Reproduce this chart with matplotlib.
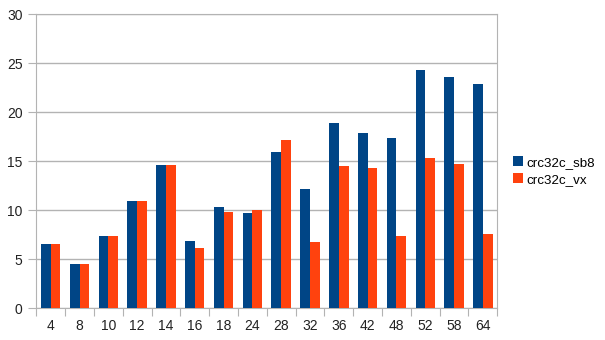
import numpy as np
import matplotlib.pyplot as plt

plt.rcParams['font.family'] = ['Liberation Sans', 'DejaVu Sans']

sizes = ['4', '8', '10', '12', '14', '16', '18', '24', '28', '32', '36', '42', '48', '52', '58', '64']
crc32c_sb8 = [6.6, 4.5, 7.4, 11.0, 14.6, 6.9, 10.3, 9.7, 16.0, 12.2, 18.9, 17.9, 17.4, 24.3, 23.6, 22.9]
crc32c_vx = [6.6, 4.5, 7.4, 11.0, 14.6, 6.2, 9.8, 10.0, 17.2, 6.8, 14.5, 14.3, 7.4, 15.3, 14.7, 7.6]

grid_col = '#b3b3b3'

fig = plt.figure(figsize=(6.05, 3.4), dpi=100)
ax = fig.add_axes([36.3 / 605, 1 - 308.3 / 340, 461 / 605, 294 / 340])

x = np.arange(len(sizes))
w = 0.337
ax.bar(x - w / 2, crc32c_sb8, w, color='#004586', label='crc32c_sb8', zorder=3)
ax.bar(x + w / 2, crc32c_vx, w, color='#ff420e', label='crc32c_vx', zorder=3)

ax.set_xlim(-0.5, len(sizes) - 0.5)
ax.set_ylim(0, 30)
ax.set_yticks(range(0, 31, 5))

# category boundaries get the tick marks, labels sit in the middle
ax.set_xticks(np.arange(len(sizes) + 1) - 0.5)
ax.set_xticklabels([])
ax.set_xticks(x, minor=True)
ax.set_xticklabels(sizes, minor=True)
ax.tick_params(axis='x', which='major', length=6, color=grid_col)
ax.tick_params(axis='x', which='minor', length=0, pad=8, labelsize=10, labelcolor='#222222')
ax.tick_params(axis='y', length=6, color=grid_col, pad=4, labelsize=10, labelcolor='#222222')

ax.grid(axis='y', color=grid_col, lw=1, zorder=0)
for s in ax.spines.values():
    s.set_color(grid_col)

ax.legend(loc='center left', bbox_to_anchor=(1.035, 0.467), frameon=False,
          borderaxespad=0, borderpad=0,
          handlelength=0.7, handleheight=0.7, handletextpad=0.3, fontsize=9.6,
          labelspacing=0.35)

fig.savefig('out.png')
